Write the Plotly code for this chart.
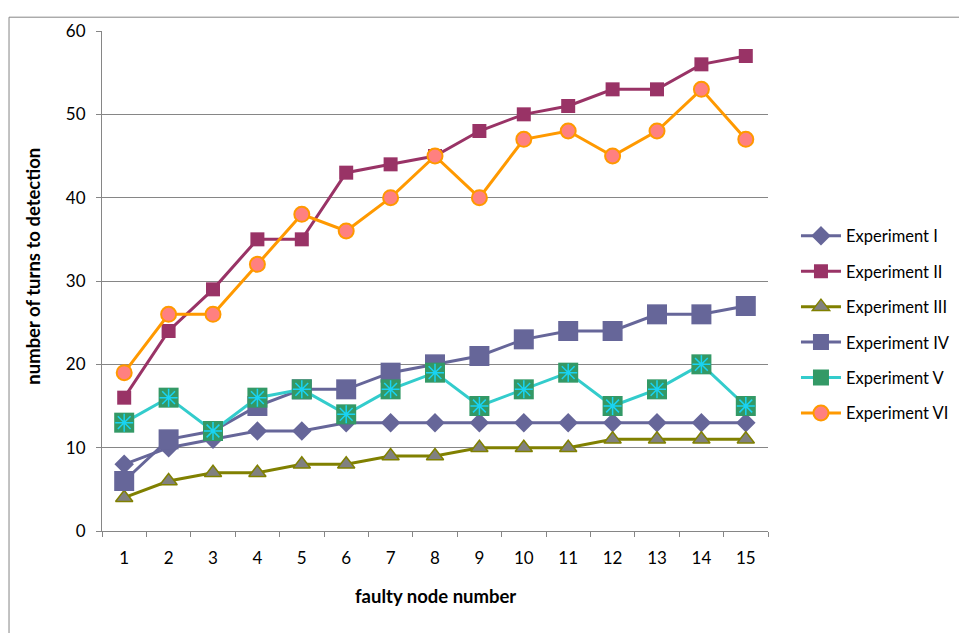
import plotly.graph_objects as go

categories = [str(i) for i in range(1, 16)]
exp1 = [8, 10, 11, 12, 12, 13, 13, 13, 13, 13, 13, 13, 13, 13, 13]
exp2 = [16, 24, 29, 35, 35, 43, 44, 45, 48, 50, 51, 53, 53, 56, 57]
exp3 = [4, 6, 7, 7, 8, 8, 9, 9, 10, 10, 10, 11, 11, 11, 11]
exp4 = [6, 11, 12, 15, 17, 17, 19, 20, 21, 23, 24, 24, 26, 26, 27]
exp5 = [13, 16, 12, 16, 17, 14, 17, 19, 15, 17, 19, 15, 17, 20, 15]
exp6 = [19, 26, 26, 32, 38, 36, 40, 45, 40, 47, 48, 45, 48, 53, 47]
names = ["Experiment I", "Experiment II", "Experiment III",
         "Experiment IV", "Experiment V", "Experiment VI"]

FONT = "Lato"
fig = go.Figure()

fig.add_trace(go.Scatter(x=categories, y=exp1, name=names[0], mode="lines+markers",
                         legendgroup="g1",
                         line=dict(color="#666699", width=3),
                         marker=dict(symbol="diamond", size=15, color="#666699",
                                     line=dict(width=0))))
fig.add_trace(go.Scatter(x=categories, y=exp2, name=names[1], mode="lines+markers",
                         legendgroup="g2",
                         line=dict(color="#993366", width=3),
                         marker=dict(symbol="square", size=14, color="#993366",
                                     line=dict(width=0))))
fig.add_trace(go.Scatter(x=categories, y=exp3, name=names[2], mode="lines+markers",
                         legendgroup="g3",
                         line=dict(color="#808000", width=3),
                         marker=dict(symbol="triangle-up", size=15, color="#808080",
                                     line=dict(width=1.5, color="#808000"))))
fig.add_trace(go.Scatter(x=categories, y=exp4, name=names[3], mode="lines+markers",
                         legendgroup="g4",
                         line=dict(color="#666699", width=3),
                         marker=dict(symbol="square", size=20, color="#666699",
                                     line=dict(width=0))))
fig.add_trace(go.Scatter(x=categories, y=exp5, name=names[4], mode="lines+markers",
                         legendgroup="g5",
                         line=dict(color="#33CCCC", width=3),
                         marker=dict(symbol="square", size=20, color="#339966",
                                     line=dict(width=0))))
fig.add_trace(go.Scatter(x=categories, y=exp5, mode="markers", showlegend=False,
                         legendgroup="g5", hoverinfo="skip",
                         marker=dict(symbol="asterisk-open", size=15,
                                     line=dict(width=1.5, color="#33CCCC"))))
fig.add_trace(go.Scatter(x=categories, y=exp6, name=names[5], mode="lines+markers",
                         legendgroup="g6",
                         line=dict(color="#FF9900", width=3),
                         marker=dict(symbol="circle", size=15, color="#FF8080",
                                     line=dict(width=2, color="#FF9900"))))

fig.update_layout(
    width=959, height=625,
    margin=dict(l=94, r=195, t=16, b=102),
    paper_bgcolor="white", plot_bgcolor="white",
    font=dict(family=FONT, size=17, color="black"),
    showlegend=True,
    legend=dict(x=1.042, xanchor="left", xref="paper", y=0.413, yanchor="middle",
                font=dict(family=FONT, size=16.5, color="black"),
                tracegroupgap=11, bgcolor="rgba(0,0,0,0)",
                itemwidth=40),
    xaxis=dict(type="category", range=[-0.5, 14.5], showgrid=False, showline=True,
               linecolor="#868686", linewidth=1, ticks="outside",
               tickson="boundaries", ticklen=5, tickcolor="#868686",
               tickfont=dict(family=FONT, size=17), ticklabelstandoff=12,
               zeroline=False, fixedrange=True),
    yaxis=dict(range=[0, 60], dtick=10, showgrid=True, gridcolor="#868686",
               gridwidth=1, showline=True, linecolor="#868686", linewidth=1,
               ticks="outside", ticklen=5, tickcolor="#868686",
               tickfont=dict(family=FONT, size=17), ticklabelstandoff=7,
               zeroline=False),
    annotations=[
        dict(text="<b>number of turns to detection</b>", textangle=-90,
             xref="paper", yref="paper", x=-0.1040, y=0.53,
             xanchor="center", yanchor="middle", showarrow=False,
             font=dict(family=FONT, size=18.5)),
        dict(text="<b>faulty node number</b>", xref="paper", yref="paper",
             x=0.5, y=-0.13, xanchor="center", yanchor="middle", showarrow=False,
             font=dict(family=FONT, size=18.5)),
    ],
    shapes=[dict(type="rect", xref="paper", yref="paper",
                 x0=-0.1396, x1=2.0, y0=-1.0, y1=1.0276,
                 line=dict(color="#868686", width=1), fillcolor="rgba(0,0,0,0)")],
)

fig.write_html("out.html")
